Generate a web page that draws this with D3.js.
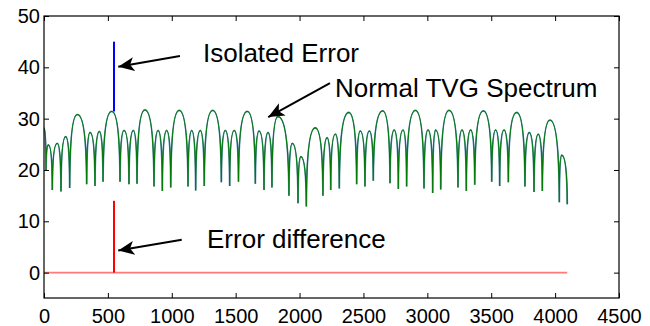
<!DOCTYPE html>
<html lang="en">
<head>
  <title>TVG Spectrum</title>
  <script src="https://cdn.jsdelivr.net/npm/d3@7"></script>
  <style>
    body { margin: 0; background: #fff; }
    text { font-family: "Liberation Sans", Arial, sans-serif; }
  </style>
</head>
<body>
  <script>
    // spectrum: alternating lobe peaks and nulls
    const specX = [0, 16, 34, 65, 104, 133, 170, 201, 261, 334, 360, 399, 433, 462, 530, 595, 626, 665, 699, 728,
      790, 861, 893, 926, 960, 992, 1058, 1127, 1156, 1187, 1223, 1254, 1320, 1388, 1419, 1453, 1489, 1522,
      1591, 1654, 1683, 1722, 1753, 1784, 1831, 1917, 1943, 1988, 2009, 2053, 2123, 2183, 2215, 2244, 2280, 2311,
      2385, 2447, 2475, 2512, 2546, 2577, 2651, 2708, 2741, 2773, 2810, 2838, 2906, 2974, 3005, 3042, 3065, 3105,
      3170, 3240, 3271, 3305, 3339, 3371, 3438, 3504, 3535, 3566, 3600, 3634, 3699, 3764, 3798, 3835, 3868, 3900,
      3960, 4033, 4051, 4095];
    const specY = [28.2, 20.0, 24.9, 16.1, 25.2, 15.8, 26.5, 16.5, 30.8, 17.2, 27.3, 16.9, 27.5, 17.7, 31.4, 17.7, 27.7, 17.2, 27.7, 17.3,
      31.7, 16.8, 27.7, 15.9, 27.7, 16.6, 31.6, 16.8, 27.7, 16.0, 27.7, 16.9, 31.6, 17.6, 27.7, 16.9, 27.7, 17.7,
      31.4, 17.3, 27.6, 16.1, 27.3, 16.6, 30.4, 15.0, 25.2, 13.5, 22.6, 12.9, 28.2, 15.0, 26.3, 16.1, 27.0, 16.4,
      31.2, 17.2, 27.6, 16.8, 27.6, 17.9, 31.5, 17.4, 27.8, 16.3, 27.8, 16.8, 31.6, 16.4, 27.8, 15.5, 27.8, 16.2,
      31.6, 16.6, 27.8, 15.9, 27.8, 17.1, 31.5, 17.7, 27.8, 16.9, 27.8, 17.6, 31.2, 16.8, 27.3, 15.7, 27.0, 15.9,
      29.7, 13.7, 22.9, 13.3];

    // isolated error and difference
    const errorX = 548;
    const errorFrom = 31.4, errorTo = 45;
    const diffTo = 14;
    const diffRange = [0, 4095];

    const xTicks = [0, 500, 1000, 1500, 2000, 2500, 3000, 3500, 4000, 4500];
    const yTicks = [0, 10, 20, 30, 40, 50];

    const notes = [
      { text: "Isolated Error", x: 1244, y: 41.0, from: [1064, 42.2], to: [581, 40.1] },
      { text: "Normal TVG Spectrum", x: 2277, y: 34.2, from: [2238, 36.9], to: [1755, 30.3] },
      { text: "Error difference", x: 1276, y: 4.8, from: [1078, 6.4], to: [581, 4.3] }
    ];

    const width = 650, height = 326;
    const margins = { left: 44, top: 16, right: 31, bottom: 28 };

    const svg = d3.select("body").append("svg")
      .attr("width", width)
      .attr("height", height);

    const xScale = d3.scaleLinear().domain([0, 4500]).range([margins.left, width - margins.right]);
    const yScale = d3.scaleLinear().domain([-5, 50]).range([height - margins.bottom + 0.3, margins.top]);

    // arch-shaped curve: rounded tops, steep sides down to each null
    function LobeCurve(context) { this._context = context; }
    LobeCurve.prototype = {
      areaStart() {}, areaEnd() {},
      lineStart() { this._p = 0; },
      lineEnd() {},
      point(x, y) {
        const c = this._context;
        if (!this._p) { c.moveTo(x, y); this._p = 1; }
        else {
          const x0 = this._x0, y0 = this._y0, dx = x - x0, dy = y - y0;
          if (y < y0) c.bezierCurveTo(x0 + 0.03 * dx, y0 + 0.8 * dy, x0 + 0.5 * dx, y, x, y);
          else c.bezierCurveTo(x0 + 0.5 * dx, y0, x0 + 0.97 * dx, y0 + 0.2 * dy, x, y);
        }
        this._x0 = x; this._y0 = y;
      }
    };
    const lobeCurve = ctx => new LobeCurve(ctx);

    const spec = specX.map((x, i) => [x, specY[i]]);
    const line = d3.line().x(d => xScale(d[0])).y(d => yScale(d[1])).curve(lobeCurve);

    // error-free baseline and difference spike
    svg.append("line")
      .attr("x1", xScale(diffRange[0])).attr("x2", xScale(diffRange[1]))
      .attr("y1", yScale(0)).attr("y2", yScale(0))
      .attr("stroke", "#ff7b7b").attr("stroke-width", 1.6);
    svg.append("line")
      .attr("x1", xScale(errorX)).attr("x2", xScale(errorX))
      .attr("y1", yScale(0)).attr("y2", yScale(diffTo))
      .attr("stroke", "#ff0000").attr("stroke-width", 2);

    // spectrum with error (blue) under the normal one (green)
    svg.append("line")
      .attr("x1", xScale(errorX)).attr("x2", xScale(errorX))
      .attr("y1", yScale(errorFrom)).attr("y2", yScale(errorTo))
      .attr("stroke", "#0000ff").attr("stroke-width", 2);
    svg.append("path").datum(spec)
      .attr("d", line)
      .attr("fill", "none").attr("stroke", "#4f86a8").attr("stroke-width", 1.8);
    svg.append("path").datum(spec)
      .attr("d", line)
      .attr("fill", "none").attr("stroke", "#007a00").attr("stroke-width", 1.1);

    // axes box with inward ticks
    const fontSize = 20;
    svg.append("g")
      .attr("transform", `translate(0, ${height - margins.bottom})`)
      .call(d3.axisBottom(xScale).tickValues(xTicks).tickFormat(d3.format("d"))
        .tickSizeInner(-5).tickSizeOuter(0).tickPadding(11));
    svg.append("g")
      .attr("transform", `translate(0, ${margins.top})`)
      .call(d3.axisTop(xScale).tickValues(xTicks).tickSizeInner(-5).tickSizeOuter(0).tickFormat(""));
    svg.append("g")
      .attr("transform", `translate(${margins.left}, 0)`)
      .call(d3.axisLeft(yScale).tickValues(yTicks).tickSizeInner(-5).tickSizeOuter(0).tickPadding(4));
    svg.append("g")
      .attr("transform", `translate(${width - margins.right}, 0)`)
      .call(d3.axisRight(yScale).tickValues(yTicks).tickSizeInner(-5).tickSizeOuter(0).tickFormat(""));
    svg.selectAll(".domain").remove();
    svg.selectAll(".tick line").attr("stroke", "#000");
    svg.selectAll(".tick text")
      .attr("font-size", fontSize).attr("fill", "#000")
      .attr("font-family", "'Liberation Sans', Arial, sans-serif");
    svg.append("rect")
      .attr("x", margins.left).attr("y", margins.top)
      .attr("width", width - margins.left - margins.right)
      .attr("height", height - margins.top - margins.bottom)
      .attr("fill", "none").attr("stroke", "#000").attr("stroke-width", 1.2);

    // annotations
    svg.append("defs").append("marker")
      .attr("id", "head")
      .attr("markerUnits", "userSpaceOnUse")
      .attr("markerWidth", 18).attr("markerHeight", 14)
      .attr("refX", 16).attr("refY", 7)
      .attr("orient", "auto")
      .append("path").attr("d", "M0,0 L16,7 L0,14 L4,7 Z").attr("fill", "#000");

    const noteG = svg.append("g");
    noteG.selectAll("line").data(notes).join("line")
      .attr("x1", d => xScale(d.from[0])).attr("y1", d => yScale(d.from[1]))
      .attr("x2", d => xScale(d.to[0])).attr("y2", d => yScale(d.to[1]))
      .attr("stroke", "#000").attr("stroke-width", 2)
      .attr("marker-end", "url(#head)");
    noteG.selectAll("text").data(notes).join("text")
      .attr("x", d => xScale(d.x)).attr("y", d => yScale(d.y))
      .attr("font-size", 26)
      .text(d => d.text);
  </script>
</body>
</html>
